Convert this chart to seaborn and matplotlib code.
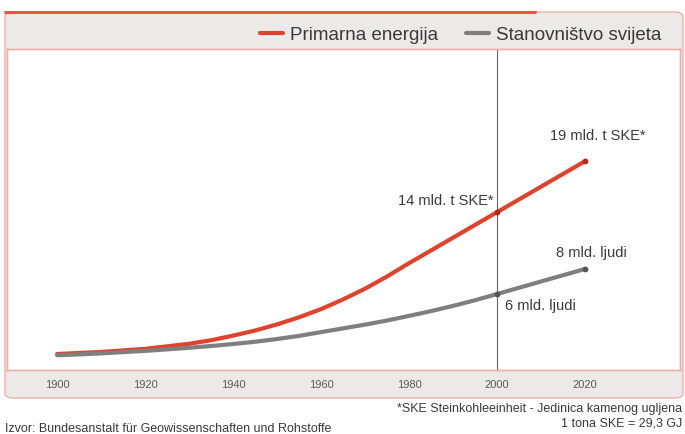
"""Primary energy vs. world population, 1900-2020."""

import matplotlib
matplotlib.use("Agg")
import matplotlib.pyplot as plt
import matplotlib.patches as patches
from matplotlib.lines import Line2D
import seaborn as sns

sns.set_style("white")
plt.rcParams["font.family"] = ["Liberation Sans", "DejaVu Sans"]

RED = "#e0432c"
GRAY = "#7f7f7f"
PINK = "#eeb0a6"
BAND = "#ece9e9"
TEXT = "#3a3a3a"

# data (energy in bn t SKE, population in bn)
years = [1900, 1905, 1910, 1915, 1920, 1925, 1930, 1935, 1940, 1945, 1950, 1955, 1960,
         1965, 1970, 1975, 1980, 1985, 1990, 1995, 2000, 2005, 2010, 2015, 2020]
energy = [0.1, 0.2, 0.3, 0.45, 0.6, 0.85, 1.1, 1.45, 1.9, 2.4, 3.0, 3.7, 4.5,
          5.45, 6.5, 7.7, 9.0, 10.25, 11.5, 12.75, 14.0, 15.25, 16.5, 17.75, 19.0]
population = [1.1, 1.17, 1.25, 1.35, 1.45, 1.57, 1.7, 1.84, 2.0, 2.18, 2.4, 2.65, 2.95,
              3.25, 3.55, 3.88, 4.25, 4.63, 5.05, 5.5, 6.0, 6.5, 7.0, 7.5, 8.0]
tick_years = [1900, 1920, 1940, 1960, 1980, 2000, 2020]
marked_years = [2000, 2020]
energy_marked = [14.0, 19.0]
population_marked = [6.0, 8.0]
energy_labels = ["14 mld. t SKE*", "19 mld. t SKE*"]
population_labels = ["6 mld. ljudi", "8 mld. ljudi"]

W, H = 685, 434


def fx(px):
    return px / W


def fy(py):
    return (H - py) / H


fig = plt.figure(figsize=(6.85, 4.34), dpi=100)

# frame with the grey bands, behind the axes
frame = patches.FancyBboxPatch((fx(5), fy(398)), fx(683) - fx(5), fy(12) - fy(398),
                               boxstyle="round,pad=0,rounding_size=0.012",
                               transform=fig.transFigure, facecolor=BAND,
                               edgecolor=PINK, linewidth=1.0, zorder=-5)
fig.patches.append(frame)

ax = fig.add_axes([fx(7), fy(370), fx(680) - fx(7), fy(49) - fy(370)])
ax.set_facecolor("white")
ax2 = ax.twinx()

sns.lineplot(x=years, y=energy, ax=ax, color=RED, linewidth=2.3, label="Primarna energija")
sns.lineplot(x=years, y=population, ax=ax2, color=GRAY, linewidth=2.0, label="Stanovništvo svijeta")
ax.scatter(marked_years, energy_marked, s=10, color="#b02a1a", zorder=3)
ax2.scatter(marked_years, population_marked, s=10, color="#555555", zorder=3)

ax.axvline(2000, color="#666666", linewidth=0.8, zorder=1)

ax.set_xlim(1888.6, 2041.6)
ax.set_ylim(-1.47, 30.0)
ax2.set_ylim(-0.08, 25.6)

ax.set_xticks(tick_years)
ax.set_xticklabels([str(y) for y in tick_years], fontsize=8, color="#5a5a5a")
ax.tick_params(axis="x", length=0, pad=7)
ax.set_yticks([])
ax2.set_yticks([])
ax.set_xlabel("")
ax.set_ylabel("")
ax2.set_ylabel("")
for a in (ax, ax2):
    for s in a.spines.values():
        s.set_color(PINK)
        s.set_linewidth(1.0)

# value labels next to the points
energy_offsets = [(-4, 11, "right"), (-35, 25, "left")]
for x, y, txt, (dx, dy, ha) in zip(marked_years, energy_marked, energy_labels, energy_offsets):
    ax.annotate(txt, xy=(x, y), xytext=(dx, dy), textcoords="offset pixels",
                ha=ha, va="center", fontsize=10.5, color=TEXT)
pop_offsets = [(8, -12, "left"), (-29, 16, "left")]
for x, y, txt, (dx, dy, ha) in zip(marked_years, population_marked, population_labels, pop_offsets):
    ax2.annotate(txt, xy=(x, y), xytext=(dx, dy), textcoords="offset pixels",
                 ha=ha, va="center", fontsize=10.5, color=TEXT)

# legend in the top band
h1, l1 = ax.get_legend_handles_labels()
h2, l2 = ax2.get_legend_handles_labels()
ax.get_legend().remove()
ax2.get_legend().remove()
for h in h1 + h2:
    h.set_linewidth(3)
fig.legend(h1 + h2, l1 + l2, loc="center left", bbox_to_anchor=(fx(260), fy(35)),
           ncol=2, frameon=False, fontsize=13.5, handlelength=1.2, handletextpad=0.4,
           columnspacing=1.5, borderpad=0, borderaxespad=0, labelcolor=TEXT)

# red top edge of the frame
fig.lines.append(Line2D([fx(5), fx(535)], [fy(12), fy(12)], transform=fig.transFigure,
                        color=RED, linewidth=2.2, alpha=0.85))

# footnotes
fig.text(fx(682), fy(409), "*SKE Steinkohleeinheit - Jedinica kamenog ugljena",
         ha="right", va="center", fontsize=9, color=TEXT)
fig.text(fx(682), fy(424), "1 tona SKE = 29,3 GJ", ha="right", va="center",
         fontsize=9, color=TEXT)
fig.text(fx(5), fy(429), "Izvor: Bundesanstalt für Geowissenschaften und Rohstoffe",
         ha="left", va="center", fontsize=9, color=TEXT)

fig.savefig("out.png", dpi=100)
